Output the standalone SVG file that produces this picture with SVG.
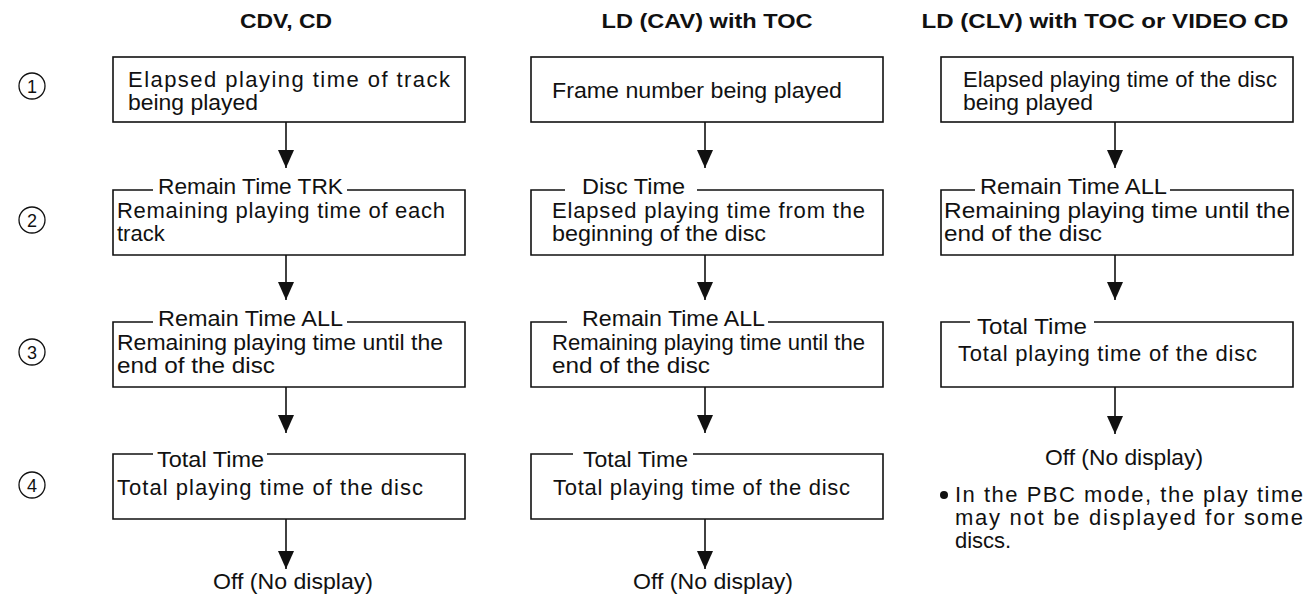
<svg xmlns="http://www.w3.org/2000/svg" width="1307" height="599" viewBox="0 0 1307 599">
<style>
text{font-family:"Liberation Sans",Arial,Helvetica,sans-serif;fill:#111}
.h{font-size:21px;font-weight:bold}
.t{font-size:22px}
.n{font-size:18px}
.box{fill:none;stroke:#111;stroke-width:1.6}
.num{fill:none;stroke:#111;stroke-width:1.3}
.c{stroke:#111;stroke-width:1.6;fill:none}
</style>
<defs>
<marker id="ah" markerUnits="userSpaceOnUse" markerWidth="20" markerHeight="16" refX="18" refY="8" orient="auto">
<path d="M0,0 L18,8 L0,16 Z" fill="#111"/>
</marker>
</defs>
<rect width="1307" height="599" fill="#fff"/>

<g id="headers">
<text class="h" x="286" y="28" text-anchor="middle" textLength="92" lengthAdjust="spacingAndGlyphs">CDV, CD</text>
<text class="h" x="707" y="28" text-anchor="middle" textLength="211" lengthAdjust="spacingAndGlyphs">LD (CAV) with TOC</text>
<text class="h" x="1105" y="28" text-anchor="middle" textLength="367" lengthAdjust="spacingAndGlyphs">LD (CLV) with TOC or VIDEO CD</text>
</g>

<g id="steps">
<circle class="num" cx="32" cy="86" r="13"/><text class="n" x="32" y="92.5" text-anchor="middle">1</text>
<circle class="num" cx="32" cy="220" r="13"/><text class="n" x="32" y="226.5" text-anchor="middle">2</text>
<circle class="num" cx="32" cy="352" r="13"/><text class="n" x="32" y="358.5" text-anchor="middle">3</text>
<circle class="num" cx="32" cy="485" r="13"/><text class="n" x="32" y="491.5" text-anchor="middle">4</text>
</g>

<g id="connectors">
<line class="c" x1="286" y1="122" x2="286" y2="168" marker-end="url(#ah)"/>
<line class="c" x1="286" y1="255" x2="286" y2="300" marker-end="url(#ah)"/>
<line class="c" x1="286" y1="387" x2="286" y2="433" marker-end="url(#ah)"/>
<line class="c" x1="286" y1="519" x2="286" y2="569" marker-end="url(#ah)"/>
<line class="c" x1="705" y1="122" x2="705" y2="168" marker-end="url(#ah)"/>
<line class="c" x1="705" y1="255" x2="705" y2="300" marker-end="url(#ah)"/>
<line class="c" x1="705" y1="387" x2="705" y2="433" marker-end="url(#ah)"/>
<line class="c" x1="705" y1="519" x2="705" y2="569" marker-end="url(#ah)"/>
<line class="c" x1="1115" y1="122" x2="1115" y2="168" marker-end="url(#ah)"/>
<line class="c" x1="1115" y1="255" x2="1115" y2="300" marker-end="url(#ah)"/>
<line class="c" x1="1115" y1="387" x2="1115" y2="434" marker-end="url(#ah)"/>
</g>

<g id="c1b1">
<rect class="box" x="113" y="57" width="352" height="65"/>
<text class="t" x="128" y="87" textLength="322" lengthAdjust="spacing">Elapsed playing time of track</text>
<text class="t" x="128" y="110" textLength="130" lengthAdjust="spacingAndGlyphs">being played</text>
</g>
<g id="c1b2">
<path class="box" d="M347,190 H465 V255 H113 V190 H153"/>
<text class="t" x="158" y="194" textLength="185" lengthAdjust="spacingAndGlyphs">Remain Time TRK</text>
<text class="t" x="117" y="218" textLength="328" lengthAdjust="spacing">Remaining playing time of each</text>
<text class="t" x="117" y="241">track</text>
</g>
<g id="c1b3">
<path class="box" d="M347,322 H465 V387 H113 V322 H153"/>
<text class="t" x="158" y="326" textLength="185" lengthAdjust="spacingAndGlyphs">Remain Time ALL</text>
<text class="t" x="117" y="350" textLength="326" lengthAdjust="spacingAndGlyphs">Remaining playing time until the</text>
<text class="t" x="117" y="373" textLength="158" lengthAdjust="spacingAndGlyphs">end of the disc</text>
</g>
<g id="c1b4">
<path class="box" d="M267,454 H465 V519 H113 V454 H153"/>
<text class="t" x="157" y="467" textLength="107" lengthAdjust="spacingAndGlyphs">Total Time</text>
<text class="t" x="117" y="495" textLength="306" lengthAdjust="spacing">Total playing time of the disc</text>
</g>
<g id="c1off">
<text class="t" x="293" y="589" text-anchor="middle" textLength="160" lengthAdjust="spacingAndGlyphs">Off (No display)</text>
</g>

<g id="c2b1">
<rect class="box" x="531" y="57" width="352" height="65"/>
<text class="t" x="552" y="98" textLength="290" lengthAdjust="spacingAndGlyphs">Frame number being played</text>
</g>
<g id="c2b2">
<path class="box" d="M697,190 H883 V255 H531 V190 H565"/>
<text class="t" x="582" y="194" textLength="103" lengthAdjust="spacingAndGlyphs">Disc Time</text>
<text class="t" x="552" y="218" textLength="313" lengthAdjust="spacing">Elapsed playing time from the</text>
<text class="t" x="552" y="241" textLength="214" lengthAdjust="spacingAndGlyphs">beginning of the disc</text>
</g>
<g id="c2b3">
<path class="box" d="M768,322 H883 V387 H531 V322 H567"/>
<text class="t" x="582" y="326" textLength="183" lengthAdjust="spacingAndGlyphs">Remain Time ALL</text>
<text class="t" x="552" y="350" textLength="313" lengthAdjust="spacingAndGlyphs">Remaining playing time until the</text>
<text class="t" x="552" y="373" textLength="158" lengthAdjust="spacingAndGlyphs">end of the disc</text>
</g>
<g id="c2b4">
<path class="box" d="M693,454 H883 V519 H531 V454 H573"/>
<text class="t" x="583" y="467" textLength="105" lengthAdjust="spacingAndGlyphs">Total Time</text>
<text class="t" x="553" y="495" textLength="297" lengthAdjust="spacing">Total playing time of the disc</text>
</g>
<g id="c2off">
<text class="t" x="713" y="589" text-anchor="middle" textLength="160" lengthAdjust="spacingAndGlyphs">Off (No display)</text>
</g>

<g id="c3b1">
<rect class="box" x="941" y="57" width="352" height="65"/>
<text class="t" x="963" y="87" textLength="314" lengthAdjust="spacing">Elapsed playing time of the disc</text>
<text class="t" x="963" y="110" textLength="130" lengthAdjust="spacingAndGlyphs">being played</text>
</g>
<g id="c3b2">
<path class="box" d="M1170,190 H1293 V255 H941 V190 H975"/>
<text class="t" x="980" y="194" textLength="187" lengthAdjust="spacingAndGlyphs">Remain Time ALL</text>
<text class="t" x="944" y="218" textLength="346" lengthAdjust="spacingAndGlyphs">Remaining playing time until the</text>
<text class="t" x="944" y="241" textLength="158" lengthAdjust="spacingAndGlyphs">end of the disc</text>
</g>
<g id="c3b3">
<path class="box" d="M1094,322 H1293 V387 H941 V322 H970"/>
<text class="t" x="977" y="334" textLength="110" lengthAdjust="spacingAndGlyphs">Total Time</text>
<text class="t" x="958" y="361" textLength="299" lengthAdjust="spacing">Total playing time of the disc</text>
</g>
<g id="c3off">
<text class="t" x="1124" y="465" text-anchor="middle" textLength="158" lengthAdjust="spacingAndGlyphs">Off (No display)</text>
</g>
<g id="note">
<circle cx="944" cy="495" r="4" fill="#111"/>
<text class="t" x="955" y="502" textLength="348" lengthAdjust="spacing">In the PBC mode, the play time</text>
<text class="t" x="955" y="525" textLength="348" lengthAdjust="spacing">may not be displayed for some</text>
<text class="t" x="955" y="548">discs.</text>
</g>
</svg>
